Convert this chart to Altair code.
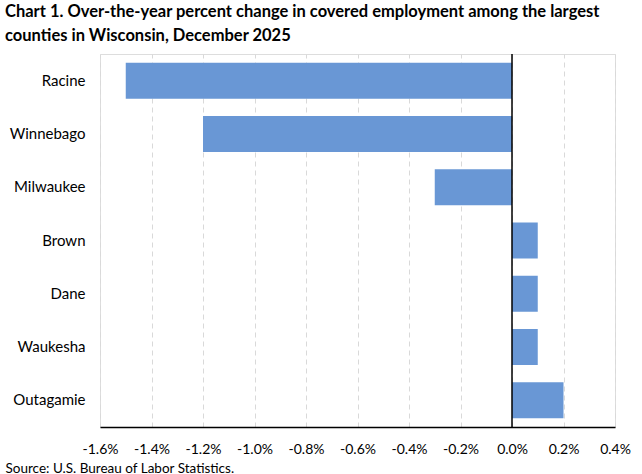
import altair as alt
import pandas as pd

counties = ["Racine", "Winnebago", "Milwaukee", "Brown", "Dane", "Waukesha", "Outagamie"]
changes = [-1.5, -1.2, -0.3, 0.1, 0.1, 0.1, 0.2]
ticks = [-1.6, -1.4, -1.2, -1.0, -0.8, -0.6, -0.4, -0.2, 0.0, 0.2, 0.4]

df = pd.DataFrame({"county": counties, "change": changes})
FONT = "Lato"

bars = alt.Chart(df).mark_bar(color="#6997D5").encode(
    x=alt.X("change:Q",
            scale=alt.Scale(domain=[-1.6, 0.4], nice=False),
            axis=alt.Axis(values=ticks,
                          labelExpr="(datum.value < -0.0001 ? '-' : '') + format(abs(datum.value), '.1f') + '%'",
                          labelOverlap=False, labelFlush=False,
                          title="Source: U.S. Bureau of Labor Statistics.",
                          titleX=-95, titleY=41, titleAnchor="start", titleAlign="left",
                          titleBaseline="middle", titleFontSize=13.5, titleFontWeight="normal",
                          titleFont=FONT, titleColor="#000000",
                          labelFont=FONT, labelFontSize=14, labelColor="#000000", labelPadding=15,
                          ticks=False, domain=True, domainColor="#000000", domainWidth=1.5,
                          grid=True, gridColor="#d9d9d9", gridDash=[5, 4], gridWidth=1)),
    y=alt.Y("county:N", sort=counties,
            scale=alt.Scale(paddingInner=0.324, paddingOuter=0.162),
            axis=alt.Axis(title=None, labelFont=FONT, labelFontSize=15, labelColor="#000000",
                          labelPadding=15, ticks=False, domain=False, grid=False)),
)

zero = alt.Chart(pd.DataFrame({"z": [0.0]})).mark_rule(color="#000000", strokeWidth=1.5).encode(
    x=alt.X("z:Q", scale=alt.Scale(domain=[-1.6, 0.4], nice=False))
)

chart = alt.layer(bars, zero).properties(
    width=515, height=373,
    autosize=alt.AutoSizeParams(type="none"),
    padding={"left": 100, "top": 54, "right": 27, "bottom": 47},
    title=alt.TitleParams(
        text=["Chart 1. Over-the-year percent change in covered employment among the largest",
              "counties in Wisconsin, December 2025"],
        anchor="start", frame="group", dx=-95, offset=9,
        font=FONT, fontSize=16.5, fontWeight="bold", color="#000000", lineHeight=24),
).configure_view(stroke="#a6a6a6", strokeWidth=1).configure(background="white")

chart.save("out.html", embed_options={"renderer": "svg", "actions": False})
